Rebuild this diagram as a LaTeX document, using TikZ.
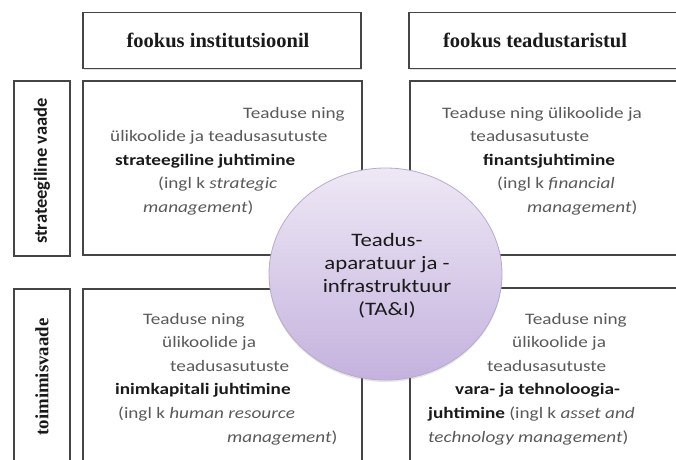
\documentclass[tikz,border=0pt]{standalone}
\usepackage{fontspec}
\setmainfont{Carlito}
\newfontfamily\boxfont[FakeStretch=1.2]{Carlito}
\newfontfamily\hdrfont{Liberation Serif}
\usetikzlibrary{shapes.geometric,shadows}
\definecolor{boxline}{HTML}{454545}
\definecolor{txtgrey}{HTML}{5A5A5A}
\definecolor{txtdark}{HTML}{1A1A1A}
\definecolor{ovtop}{HTML}{EEE8F5}
\definecolor{ovbot}{HTML}{C4B2DE}
\definecolor{ovline}{HTML}{B9AACD}
\newcommand{\bb}[1]{\textbf{\color{txtdark}#1}}
\begin{document}
\begin{tikzpicture}[x=1pt,y=-1pt,
  boxst/.style={draw=boxline, line width=1.2pt, fill=white, rectangle, inner sep=0pt,
    drop shadow={opacity=0.25, shadow xshift=1pt, shadow yshift=-1.2pt}},
  ln/.style={anchor=base west, inner sep=0pt, text=txtgrey, font=\boxfont\fontsize{16}{19}\selectfont},
  hdr/.style={anchor=center, inner sep=0pt, text=txtdark, font=\hdrfont\bfseries\fontsize{20.5}{24}\selectfont},
  ctext/.style={anchor=base, inner sep=0pt, text=txtdark, font=\boxfont\fontsize{19}{22}\selectfont}]
\useasboundingbox (0,0) rectangle (676,459);
\fill[white] (0,0) rectangle (676,459);
\clip (0,0) rectangle (676,459);
% header boxes
\node[boxst, minimum width=278pt, minimum height=56pt] (hl) at (222,40.5) {};
\node[boxst, minimum width=300pt, minimum height=56pt] (hr) at (559,40.5) {};
\node[hdr] (hlt) at (218,40) {fookus institutsioonil};
\node[hdr] (hrt) at (535,40) {fookus teadustaristul};
% side boxes
\node[boxst, minimum width=56pt, minimum height=175pt] (st) at (42,168.5) {};
\node[boxst, minimum width=56pt, minimum height=200pt] (sb) at (42,389) {};
\node[rotate=90, inner sep=0pt, text=txtdark, font=\bfseries\fontsize{18.5}{22}\selectfont] (stt) at (42,171) {strateegiline vaade};
\node[rotate=90, inner sep=0pt, text=txtdark, font=\hdrfont\bfseries\fontsize{18.8}{22}\selectfont] (sbt) at (42,377) {toimimisvaade};
% main boxes
\node[boxst, minimum width=279pt, minimum height=174pt] (tl) at (222.5,168) {};
\node[boxst, minimum width=300pt, minimum height=174pt] (tr) at (560,168) {};
\node[boxst, minimum width=279pt, minimum height=200pt] (bl) at (222.5,389) {};
\node[boxst, minimum width=300pt, minimum height=200pt] (br) at (560,388) {};
% top-left text
\node[ln] (tl1) at (243,118) {Teaduse ning};
\node[ln] (tl2) at (110,141.5) {ülikoolide ja teadusasutuste};
\node[ln] (tl3) at (115,165) {\bb{strateegiline juhtimine}};
\node[ln] (tl4) at (158,188.5) {(ingl k \textit{strategic}};
\node[ln] (tl5) at (143,212) {\textit{management})};
% top-right text
\node[ln] (tr1) at (442,118) {Teaduse ning ülikoolide ja};
\node[ln] (tr2) at (470,141.5) {teadusasutuste};
\node[ln] (tr3) at (483,165) {\bb{finantsjuhtimine}};
\node[ln] (tr4) at (497,188.5) {(ingl k \textit{financial}};
\node[ln] (tr5) at (527,212) {\textit{management})};
% bottom-left text
\node[ln] (bl1) at (143,324) {Teaduse ning};
\node[ln] (bl2) at (162,347.6) {ülikoolide ja};
\node[ln] (bl3) at (170,371.2) {teadusasutuste};
\node[ln] (bl4) at (115,394.8) {\bb{inimkapitali juhtimine}};
\node[ln] (bl5) at (118,418.4) {(ingl k \textit{human resource}};
\node[ln] (bl6) at (227,442) {\textit{management})};
% bottom-right text
\node[ln] (br1) at (525,324) {Teaduse ning};
\node[ln] (br2) at (512,347.6) {ülikoolide ja};
\node[ln] (br3) at (487,371.2) {teadusasutuste};
\node[ln] (br4) at (455,394.8) {\bb{vara- ja tehnoloogia-}};
\node[ln] (br5) at (428,418.4) {\bb{juhtimine} (ingl k \textit{asset and}};
\node[ln] (br6) at (428,442) {\textit{technology management})};
% central ellipse
\node[ellipse, minimum width=233pt, minimum height=212pt, inner sep=0pt,
      top color=ovtop, bottom color=ovbot, draw=ovline, line width=0.8pt,
      drop shadow={opacity=0.2, shadow xshift=0pt, shadow yshift=-2pt}] (ov) at (385.5,274) {};
\node[ctext] (c1) at (387,246) {Teadus-};
\node[ctext] (c2) at (387,269) {aparatuur ja -};
\node[ctext] (c3) at (387,292) {infrastruktuur};
\node[ctext] (c4) at (387,315) {(TA\&I)};
\end{tikzpicture}
\end{document}
